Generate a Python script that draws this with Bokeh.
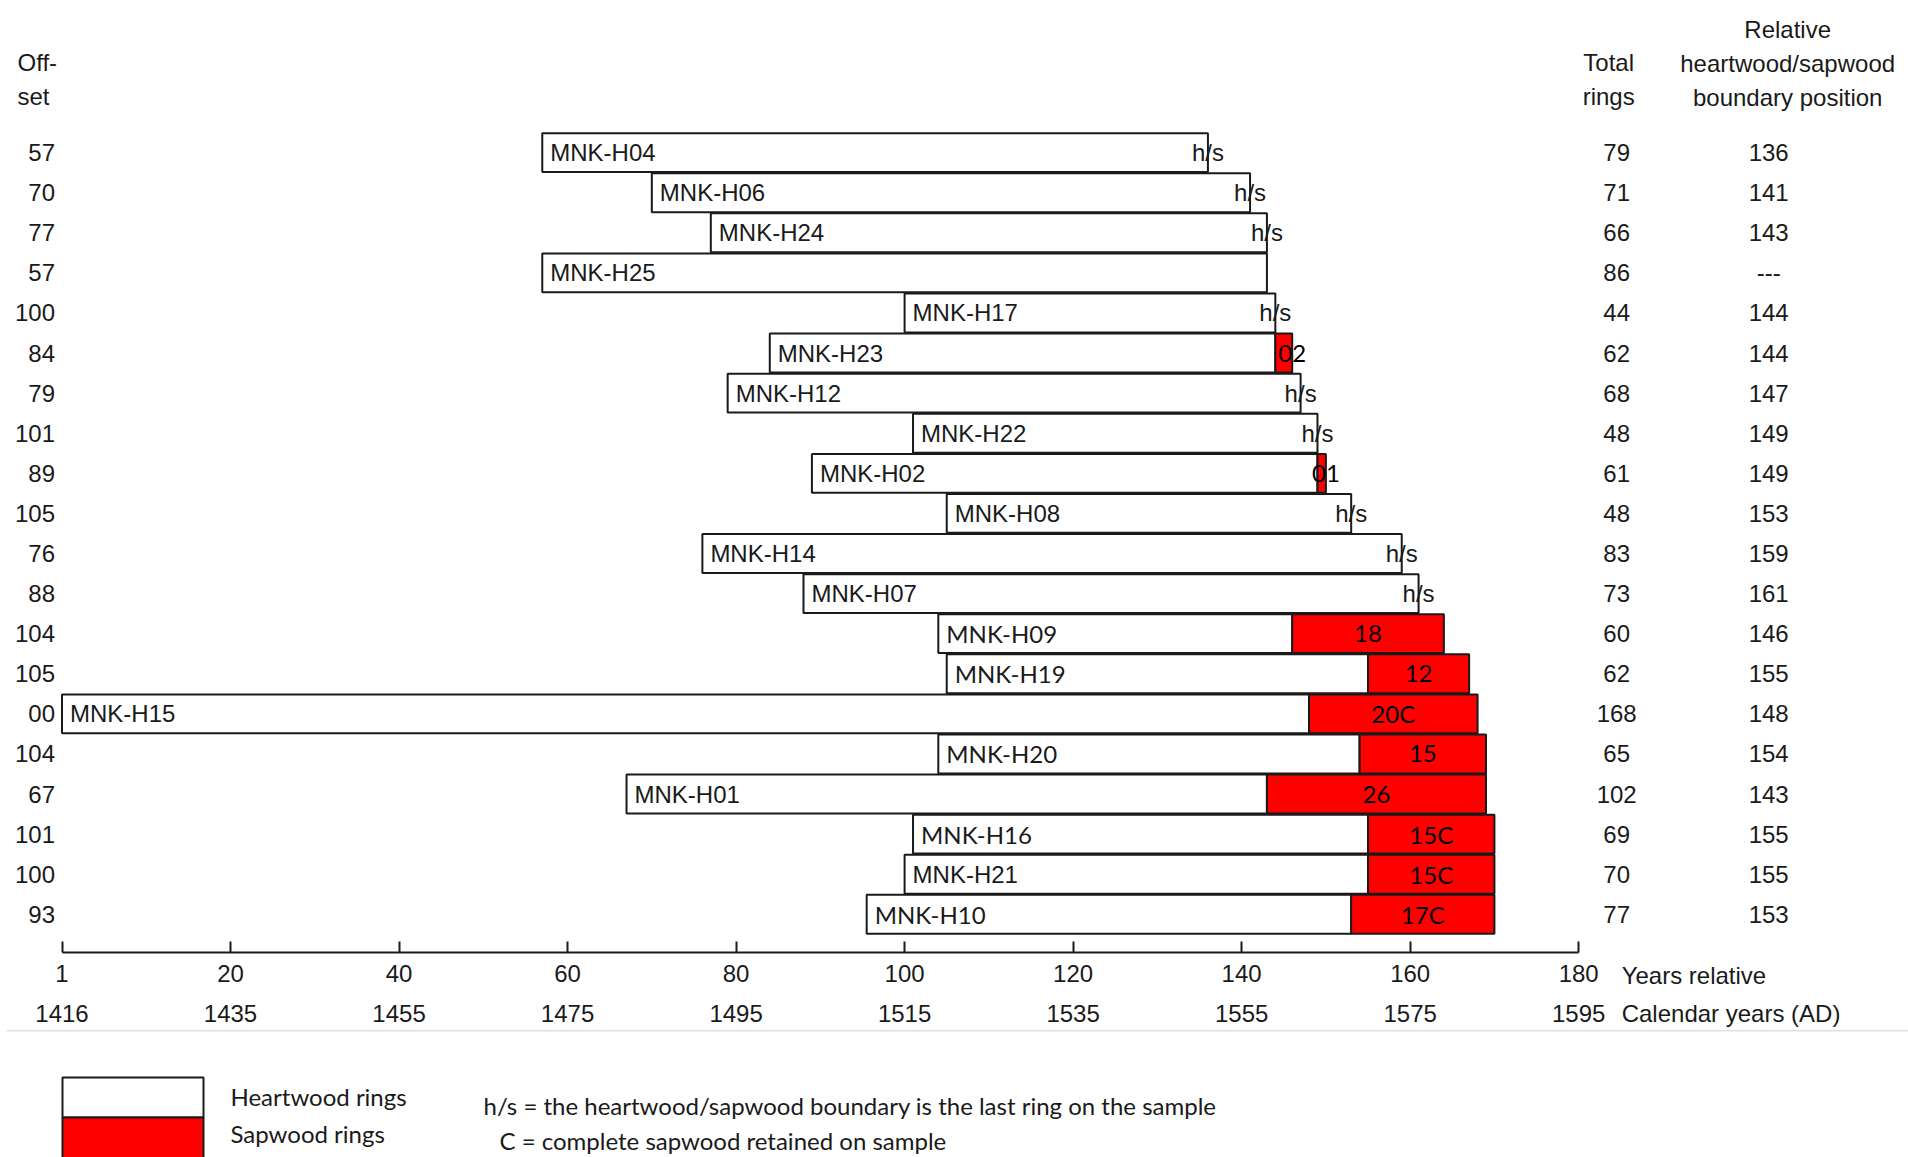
from bokeh.plotting import figure
from bokeh.models import Range1d, LinearAxis, FixedTicker, ColumnDataSource
from bokeh.layouts import column
from bokeh.embed import file_html
from bokeh.resources import INLINE
from bokeh.core.properties import value

# ---------------- data ----------------
samples = ["MNK-H04", "MNK-H06", "MNK-H24", "MNK-H25", "MNK-H17", "MNK-H23", "MNK-H12",
           "MNK-H22", "MNK-H02", "MNK-H08", "MNK-H14", "MNK-H07", "MNK-H09", "MNK-H19",
           "MNK-H15", "MNK-H20", "MNK-H01", "MNK-H16", "MNK-H21", "MNK-H10"]
# drawn extent of each sample (relative years)
bar_start = [57, 70, 77, 57, 100, 84, 79, 101, 89, 105, 76, 88, 104, 105, 0, 104, 67, 101, 100, 95.5]
bar_end = [136, 141, 143, 143, 144, 146, 147, 149, 150, 153, 159, 161, 164, 167, 168, 169, 169,
           170, 170, 170]
# heartwood/sapwood boundary (None where not present)
boundary = [136, 141, 143, None, 144, 144, 147, 149, 149, 153, 159, 161, 146, 155, 148, 154, 143,
            155, 155, 153]
sap_labels = ["h/s", "h/s", "h/s", "", "h/s", "02", "h/s", "h/s", "01", "h/s", "h/s", "h/s",
              "18", "12", "20C", "15", "26", "15C", "15C", "17C"]
# table columns
offset_text = ["57", "70", "77", "57", "100", "84", "79", "101", "89", "105", "76", "88", "104",
               "105", "00", "104", "67", "101", "100", "93"]
total_rings = [79, 71, 66, 86, 44, 62, 68, 48, 61, 48, 83, 73, 60, 62, 168, 65, 102, 69, 70, 77]
boundary_text = ["136", "141", "143", "---", "144", "144", "147", "149", "149", "153", "159", "161",
                 "146", "155", "148", "154", "143", "155", "155", "153"]

rel_ticks = [0, 20, 40, 60, 80, 100, 120, 140, 160, 180]
rel_tick_labels = ["1", "20", "40", "60", "80", "100", "120", "140", "160", "180"]
cal_tick_labels = ["1416", "1435", "1455", "1475", "1495", "1515", "1535", "1555", "1575", "1595"]

# ---------------- layout constants ----------------
W = 1908
PXY = 8.426          # px per year
X0 = 61.5            # canvas x of year 0
ROW = 40.09          # px per row
Y0 = 152.1           # canvas y of row 0
MAIN_H = 1029
AXIS_PX = 951.5      # canvas y of axis line

ARIAL = "Liberation Sans"
ALT = "Lato"
INK = "#1a1a1a"

def row_of(px):
    return (px - Y0) / ROW

x_lo = -X0 / PXY
x_hi = (W - X0) / PXY

p = figure(width=W, height=MAIN_H, x_range=Range1d(x_lo, x_hi),
           y_range=Range1d(row_of(MAIN_H), row_of(0)),
           x_axis_type=None, y_axis_type=None, toolbar_location=None, output_backend="svg",
           min_border=0, background_fill_color="white", border_fill_color="white",
           outline_line_color=None)

n = len(samples)
rows = list(range(n))
alt_font = {"MNK-H09", "MNK-H19", "MNK-H20", "MNK-H16", "MNK-H10"}
heart_end = [b if b is not None else e for b, e in zip(boundary, bar_end)]

src = ColumnDataSource(dict(
    y=rows, left=bar_start, hend=heart_end, name=samples,
    font=[ALT if s in alt_font else ARIAL for s in samples],
    zero=[0] * n, ref=[180] * n,
    off_txt=offset_text,
    tot_txt=[str(t) for t in total_rings],
    bnd_txt=boundary_text,
))

# heartwood bars
p.hbar(y="y", left="left", right="hend", height=0.97, fill_color="white",
       line_color=INK, line_width=2, source=src)

# sapwood bars
sap_idx = [i for i in rows if boundary[i] is not None and bar_end[i] > boundary[i]]
sap_src = ColumnDataSource(dict(
    y=[rows[i] for i in sap_idx],
    left=[boundary[i] for i in sap_idx],
    right=[bar_end[i] for i in sap_idx],
    lab=[sap_labels[i] for i in sap_idx],
    lx=[(boundary[i] + bar_end[i]) / 2 if bar_end[i] - boundary[i] > 4 else bar_end[i]
        for i in sap_idx],
))
p.hbar(y="y", left="left", right="right", height=0.97, fill_color="#ff0000",
       line_color=INK, line_width=2, source=sap_src)
p.text(x="lx", y="y", text="lab", text_align="center", text_baseline="middle",
       text_font=value(ALT), text_font_size="24px", text_color="black", source=sap_src)

# h/s labels
hs_idx = [i for i in rows if sap_labels[i] == "h/s"]
hs_src = ColumnDataSource(dict(x=[boundary[i] for i in hs_idx], y=[rows[i] for i in hs_idx],
                               t=[sap_labels[i] for i in hs_idx]))
p.text(x="x", y="y", text="t", text_align="center", text_baseline="middle",
       text_font=value(ARIAL), text_font_size="24px", text_color=INK, source=hs_src)

# sample names
p.text(x="left", y="y", text="name", x_offset=8, text_align="left", text_baseline="middle",
       text_font="font", text_font_size="24px", text_color=INK, source=src)

# offset column
p.text(x="zero", y="y", text="off_txt", x_offset=-7, text_align="right", text_baseline="middle",
       text_font=value(ARIAL), text_font_size="24px", text_color=INK, source=src)
# total rings column
p.text(x="ref", y="y", text="tot_txt", x_offset=38, text_align="center", text_baseline="middle",
       text_font=value(ARIAL), text_font_size="24px", text_color=INK, source=src)
# boundary column
p.text(x="ref", y="y", text="bnd_txt", x_offset=190, text_align="center", text_baseline="middle",
       text_font=value(ARIAL), text_font_size="24px", text_color=INK, source=src)

# headers and captions
def txt(xs, ys, texts, xo, align):
    p.text(x=xs, y=ys, text=texts, x_offset=xo, text_align=align, text_baseline="middle",
           text_font=value(ARIAL), text_font_size="24px", text_color=INK)

txt([0, 0], [row_of(62), row_of(96)], ["Off-", "set"], -44.5, "left")
txt([180, 180], [row_of(62), row_of(96)], ["Total", "rings"], 30, "center")
txt([180, 180, 180], [row_of(29), row_of(63), row_of(97)],
    ["Relative", "heartwood/sapwood", "boundary position"], 209, "center")
txt([180, 180], [row_of(975), row_of(1013)], ["Years relative", "Calendar years (AD)"], 43, "left")

# axes (drawn at a fixed location inside the frame)
ax1 = LinearAxis(ticker=FixedTicker(ticks=rel_ticks),
                 major_label_overrides={t: l for t, l in zip(rel_ticks, rel_tick_labels)},
                 fixed_location=row_of(AXIS_PX))
ax2 = LinearAxis(ticker=FixedTicker(ticks=rel_ticks),
                 major_label_overrides={t: l for t, l in zip(rel_ticks, cal_tick_labels)},
                 fixed_location=row_of(AXIS_PX))
for ax in (ax1, ax2):
    ax.bounds = (0, 180)
    ax.minor_tick_line_color = None
    ax.major_label_text_font = ARIAL
    ax.major_label_text_font_size = "24px"
    ax.major_label_text_color = INK
ax1.axis_line_color = INK
ax1.axis_line_width = 2
ax1.major_tick_line_color = INK
ax1.major_tick_line_width = 2
ax1.major_tick_in = 11
ax1.major_tick_out = 0
ax1.major_label_standoff = 13
ax2.axis_line_color = None
ax2.major_tick_line_color = None
ax2.major_tick_in = 0
ax2.major_tick_out = 0
ax2.major_label_standoff = 53
p.add_layout(ax1, "below")
p.add_layout(ax2, "below")

# ---------------- legend figure ----------------
LH = 1157 - MAIN_H
q = figure(width=W, height=LH, x_range=Range1d(0, W), y_range=Range1d(MAIN_H + LH, MAIN_H),
           x_axis_type=None, y_axis_type=None, toolbar_location=None, output_backend="svg",
           min_border=0, background_fill_color="white", border_fill_color="white",
           outline_line_color=None)
q.segment(x0=[6], y0=[1030], x1=[W], y1=[1030], line_color="#e2e2e2", line_width=2)
q.quad(left=[62], right=[203], top=[1077], bottom=[1117], fill_color="white",
       line_color=INK, line_width=2)
q.quad(left=[62], right=[203], top=[1117], bottom=[1170], fill_color="#ff0000",
       line_color=INK, line_width=2)
q.text(x=[230, 230], y=[1096, 1133], text=["Heartwood rings", "Sapwood rings"],
       text_baseline="middle", text_font=value(ALT), text_font_size="24px", text_color=INK)
q.text(x=[483, 499], y=[1105, 1140],
       text=["h/s = the heartwood/sapwood boundary is the last ring on the sample",
             "C = complete sapwood retained on sample"],
       text_baseline="middle", text_font=value(ALT), text_font_size="24px", text_color=INK)

layout = column(p, q, spacing=0)
open("out.html", "w").write(file_html(layout, INLINE))
